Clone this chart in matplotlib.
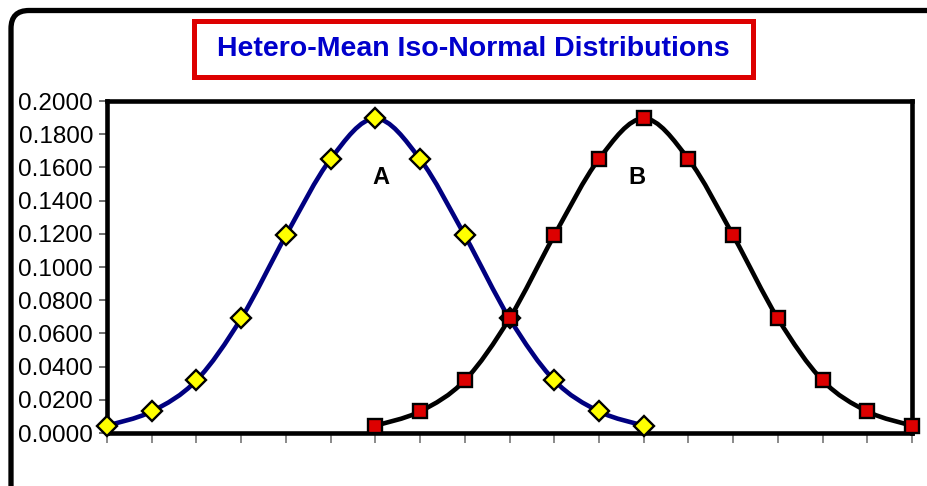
import matplotlib
matplotlib.use("Agg")
import matplotlib.pyplot as plt
import numpy as np
from matplotlib.path import Path
from matplotlib.patches import PathPatch, FancyBboxPatch, Rectangle
from matplotlib.transforms import Affine2D

title = "Hetero-Mean Iso-Normal Distributions"
x_a = list(range(0, 13))
y_a = [0.0044, 0.0130, 0.0317, 0.0690, 0.1190, 0.1650, 0.1895,
       0.1650, 0.1190, 0.0690, 0.0317, 0.0130, 0.0044]
x_b = list(range(6, 19))
y_b = [0.0044, 0.0130, 0.0317, 0.0690, 0.1190, 0.1650, 0.1895,
       0.1650, 0.1190, 0.0690, 0.0317, 0.0130, 0.0044]
y_ticks = [0.0, 0.02, 0.04, 0.06, 0.08, 0.10, 0.12, 0.14, 0.16, 0.18, 0.20]
label_a = "A"
label_b = "B"

plt.rcParams['font.family'] = ['Liberation Sans', 'DejaVu Sans']

W, H = 927, 486
fig = plt.figure(figsize=(W / 100, H / 100), dpi=100)
fig.patch.set_facecolor('white')
pix = Affine2D().scale(1 / W, 1 / H) + fig.transFigure

# outer rounded frame (pixel coordinates, bottom-origin)
frame = FancyBboxPatch((11, -30), 960, (H - 10.5) + 30,
                       boxstyle="round,pad=0,rounding_size=18",
                       transform=pix, fill=False, edgecolor='black', linewidth=3.8)
fig.patches.append(frame)

ax = fig.add_axes([107 / W, 1 - 433 / H, (912 - 107) / W, (433 - 101) / H])
ax.set_xlim(0, 18)
ax.set_ylim(0, 0.2)


def smooth_path(xs, ys):
    pts = np.column_stack([xs, ys]).astype(float)
    n = len(pts)
    verts = [pts[0]]
    codes = [Path.MOVETO]
    for i in range(n - 1):
        p0 = pts[i - 1] if i > 0 else pts[i]
        p1 = pts[i]
        p2 = pts[i + 1]
        p3 = pts[i + 2] if i + 2 < n else pts[i + 1]
        c1 = p1 + (p2 - p0) / 6.0
        c2 = p2 - (p3 - p1) / 6.0
        verts += [c1, c2, p2]
        codes += [Path.CURVE4] * 3
    return Path(verts, codes)


ax.add_patch(PathPatch(smooth_path(x_a, y_a), fill=False, edgecolor='#000080',
                       linewidth=3.3, capstyle='round', joinstyle='round', zorder=2, clip_on=False))
ax.plot(x_a, y_a, linestyle='none', marker='D', markersize=10.5,
        markerfacecolor='#FFFF00', markeredgecolor='black', markeredgewidth=1.7,
        zorder=3, clip_on=False)
ax.add_patch(PathPatch(smooth_path(x_b, y_b), fill=False, edgecolor='black',
                       linewidth=3.3, capstyle='round', joinstyle='round', zorder=4, clip_on=False))
ax.plot(x_b, y_b, linestyle='none', marker='s', markersize=10.5,
        markerfacecolor='#DD0000', markeredgecolor='black', markeredgewidth=1.7,
        zorder=5, clip_on=False)

ax.text(6.13, 0.1542, label_a, ha='center', va='center', fontsize=17, fontweight='bold')
ax.text(11.85, 0.1542, label_b, ha='center', va='center', fontsize=17, fontweight='bold')

ax.set_yticks(y_ticks)
ax.set_yticklabels([f"{v:.4f}" for v in y_ticks], fontsize=17.5)
ax.set_xticks(range(0, 19))
ax.set_xticklabels([])
ax.tick_params(axis='y', direction='out', length=6, width=1.2, color='#555555', pad=4)
ax.tick_params(axis='x', direction='out', length=7, width=1.2, color='#777777')
for s in ax.spines.values():
    s.set_linewidth(3.3)
    s.set_color('black')

# title box
fig.patches.append(Rectangle((194, H - 77), 753 - 194, 77 - 21,
                             transform=pix, fill=True, facecolor='white',
                             edgecolor='#DD0000', linewidth=3.6))
fig.text((194 + 753) / 2 / W, 1 - 48.5 / H, title, ha='center', va='center',
         fontsize=20.5, fontweight='bold', color='#0000CC')

fig.savefig('out.png', dpi=100)
